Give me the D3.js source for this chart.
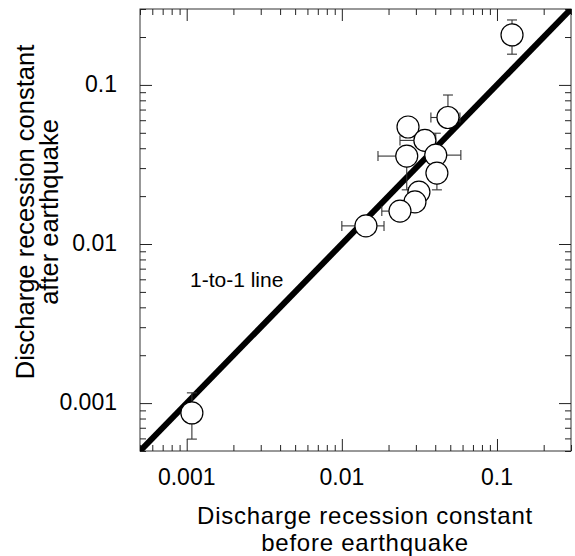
<!DOCTYPE html>
<html>
<head>
<meta charset="utf-8">
<script src="https://cdn.jsdelivr.net/npm/d3@7"></script>
<style>
  body { margin: 0; background: #fff; }
  svg { display: block; font-family: "Liberation Sans", Arial, Helvetica, sans-serif; }
</style>
</head>
<body>
<div id="chart"></div>
<script>
// recession constants, before (x) and after (y) the earthquake
const beforeK = [0.125, 0.0483, 0.0267, 0.0343, 0.0262, 0.0403, 0.041, 0.0314, 0.0296, 0.0237, 0.0143, 0.00108];
const afterK  = [0.206, 0.0624, 0.0544, 0.0448, 0.0357, 0.0362, 0.0279, 0.0212, 0.0184, 0.0161, 0.013, 0.000867];
// error bar ends (null = not visible)
const xErrLo = [null, 0.0375, null, 0.0237, 0.0171, null, null, 0.0268, null, 0.0181, 0.0100, null];
const xErrHi = [null, 0.0577, null, null, null, 0.0585, null, 0.036, 0.034, null, 0.0187, null];
const yErrLo = [0.156, null, null, null, 0.0219, null, 0.0219, null, null, null, null, 0.000594];
const yErrHi = [0.256, 0.0864, null, null, null, 0.0497, null, null, null, null, null, 0.00116];

const domain = [0.0005, 0.3];
const majorTicks = [0.001, 0.01, 0.1];
const xTitle = ["Discharge recession constant", "before earthquake"];
const yTitle = ["Discharge recession constant", "after earthquake"];
const lineLabel = "1-to-1 line";

const width = 575, height = 556;
const margin = {left: 140, right: 4, top: 9, bottom: 105};

const svg = d3.select("#chart").append("svg")
    .attr("width", width)
    .attr("height", height);

const x = d3.scaleLog().domain(domain).range([margin.left, width - margin.right]);
const y = d3.scaleLog().domain(domain).range([height - margin.bottom, margin.top]);

const x0 = x.range()[0], x1 = x.range()[1];
const y0 = y.range()[0], y1 = y.range()[1];

const minorTicks = x.ticks().filter(function(t) { return majorTicks.indexOf(t) < 0; });

svg.append("clipPath").attr("id", "clip")
    .append("rect")
    .attr("x", x0).attr("y", y1)
    .attr("width", x1 - x0).attr("height", y0 - y1);

// frame
svg.append("rect")
    .attr("x", x0).attr("y", y1)
    .attr("width", x1 - x0).attr("height", y0 - y1)
    .attr("fill", "none")
    .attr("stroke", "#333")
    .attr("stroke-width", 1);

// ticks on all four sides, pointing inward
function drawAxis(axisFn, scale, tx, ty, values, size) {
    const g = svg.append("g")
        .attr("transform", "translate(" + tx + "," + ty + ")")
        .call(axisFn(scale).tickValues(values).tickSize(size).tickFormat(""));
    g.select(".domain").remove();
    g.selectAll(".tick line").attr("stroke", "#222").attr("stroke-width", 1);
}
drawAxis(d3.axisBottom, x, 0, y0, majorTicks, -12);
drawAxis(d3.axisBottom, x, 0, y0, minorTicks, -6);
drawAxis(d3.axisTop, x, 0, y1, majorTicks, -12);
drawAxis(d3.axisTop, x, 0, y1, minorTicks, -6);
drawAxis(d3.axisLeft, y, x0, 0, majorTicks, -12);
drawAxis(d3.axisLeft, y, x0, 0, minorTicks, -6);
drawAxis(d3.axisRight, y, x1, 0, majorTicks, -12);
drawAxis(d3.axisRight, y, x1, 0, minorTicks, -6);

// tick labels
svg.append("g").selectAll("text")
    .data(majorTicks).enter()
    .append("text")
    .attr("x", function(d) { return x(d); })
    .attr("y", y0 + 34)
    .attr("text-anchor", "middle")
    .style("font-size", "23px")
    .text(function(d) { return d; });

svg.append("g").selectAll("text")
    .data(majorTicks).enter()
    .append("text")
    .attr("x", x0 - 23)
    .attr("y", function(d) { return y(d) + 7; })
    .attr("text-anchor", "end")
    .style("font-size", "23px")
    .text(function(d) { return d; });

// 1-to-1 line
svg.append("line")
    .attr("clip-path", "url(#clip)")
    .attr("x1", x(domain[0])).attr("y1", y(domain[0]))
    .attr("x2", x(domain[1])).attr("y2", y(domain[1]))
    .attr("stroke", "#000")
    .attr("stroke-width", 6);

svg.append("text")
    .attr("x", 190)
    .attr("y", 287)
    .style("font-size", "21px")
    .text(lineLabel);

// error bars
const cap = 5;
const errG = svg.append("g").attr("stroke", "#333").attr("stroke-width", 1.1);
beforeK.forEach(function(bx, i) {
    const px = x(bx), py = y(afterK[i]);
    [xErrLo[i], xErrHi[i]].forEach(function(e) {
        if (e == null) return;
        errG.append("line").attr("x1", px).attr("x2", x(e)).attr("y1", py).attr("y2", py);
        errG.append("line").attr("x1", x(e)).attr("x2", x(e)).attr("y1", py - cap).attr("y2", py + cap);
    });
    [yErrLo[i], yErrHi[i]].forEach(function(e) {
        if (e == null) return;
        errG.append("line").attr("x1", px).attr("x2", px).attr("y1", py).attr("y2", y(e));
        errG.append("line").attr("x1", px - cap).attr("x2", px + cap).attr("y1", y(e)).attr("y2", y(e));
    });
});

// points
svg.append("g").selectAll("circle")
    .data(beforeK).enter()
    .append("circle")
    .attr("cx", function(d) { return x(d); })
    .attr("cy", function(d, i) { return y(afterK[i]); })
    .attr("r", 11)
    .attr("fill", "#fff")
    .attr("stroke", "#000")
    .attr("stroke-width", 1.2);

// axis titles
xTitle.forEach(function(t, i) {
    svg.append("text")
        .attr("x", 365)
        .attr("y", 524 + i * 27)
        .attr("text-anchor", "middle")
        .style("font-size", "24px")
        .style("letter-spacing", "0.75px")
        .text(t);
});

const yt = svg.append("text")
    .attr("text-anchor", "middle")
    .attr("transform", "translate(0,212) rotate(-90)")
    .style("font-size", "25.5px");
yTitle.forEach(function(t, i) {
    yt.append("tspan").attr("x", 0).attr("y", 34 + i * 24).text(t);
});
</script>
</body>
</html>
